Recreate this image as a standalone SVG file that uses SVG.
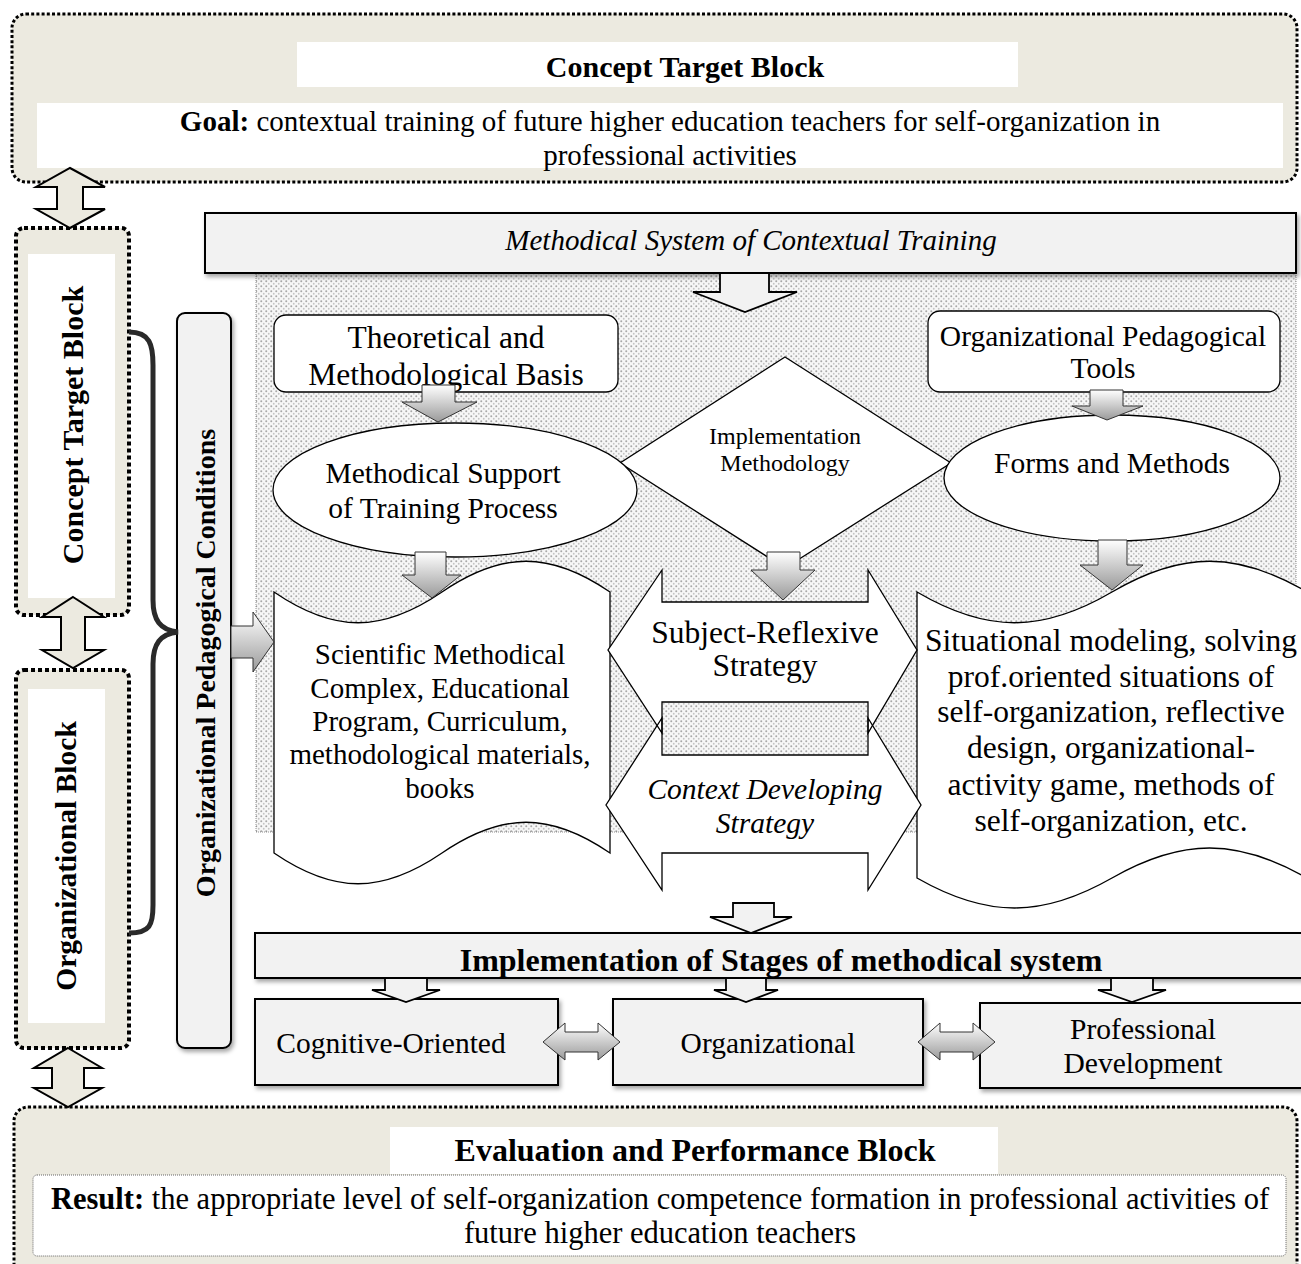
<svg xmlns="http://www.w3.org/2000/svg" width="1301" height="1264" viewBox="0 0 1301 1264">
<style>
text{font-family:"Liberation Serif","Times New Roman",serif;fill:#000}
.b{font-weight:bold}
.i{font-style:italic}
.blk{fill:#ECEAE0;stroke:#000;stroke-width:3;stroke-dasharray:3 2.2}
.lblk{fill:#ECEAE0;stroke:#000;stroke-width:4;stroke-dasharray:4 3}
.wh{fill:#fff}
.gbox{fill:#F2F2F2;stroke:#000;stroke-width:2}
.shape{fill:#fff;stroke:#000;stroke-width:1.3}
.garr{fill:url(#g);stroke:#333;stroke-width:1}
.warr{fill:#F2F2F2;stroke:#000;stroke-width:1.8}
.barr{fill:#ECEAE0;stroke:#000;stroke-width:2}
</style>
<defs>
<pattern id="dots" width="5" height="5" patternUnits="userSpaceOnUse">
<rect width="5" height="5" fill="#f7f7f7"/>
<circle cx="1.25" cy="1.25" r="1" fill="#a8a8a8"/>
<circle cx="3.75" cy="3.75" r="0.9" fill="#c4c4c4"/>
</pattern>
<linearGradient id="g" x1="0" y1="0" x2="0" y2="1">
<stop offset="0" stop-color="#ffffff"/>
<stop offset="1" stop-color="#9a9a9a"/>
</linearGradient>
<filter id="sh" x="-10%" y="-10%" width="130%" height="130%">
<feDropShadow dx="2" dy="3" stdDeviation="2" flood-color="#000" flood-opacity="0.35"/>
</filter>
</defs>

<g id="concept-target-top">
<rect class="blk" x="12" y="14" width="1285" height="168" rx="14"/>
<rect class="wh" x="297" y="42" width="721" height="45"/>
<text class="b" x="685" y="77" font-size="30" text-anchor="middle">Concept Target Block</text>
<rect class="wh" x="37" y="103" width="1246" height="65"/>
<text x="670" y="131" font-size="29" text-anchor="middle"><tspan class="b">Goal:</tspan> contextual training of future higher education teachers for self-organization in</text>
<text x="670" y="165" font-size="29" text-anchor="middle">professional activities</text>
</g>

<g id="concept-target-left">
<rect class="lblk" x="16" y="228" width="113" height="387" rx="8"/>
<rect class="wh" x="28" y="254" width="87" height="344"/>
<text class="b" font-size="30" text-anchor="middle" dominant-baseline="central" transform="translate(72,425) rotate(-90)">Concept Target Block</text>
</g>

<g id="organizational-block">
<rect class="lblk" x="16" y="670" width="113" height="378" rx="8"/>
<rect class="wh" x="28" y="689" width="77" height="334"/>
<text class="b" font-size="29.5" text-anchor="middle" dominant-baseline="central" transform="translate(66,856) rotate(-90)">Organizational Block</text>
</g>

<g id="org-ped-conditions">
<rect class="gbox" x="177" y="313" width="54" height="735" rx="8" filter="url(#sh)"/>
<text class="b" font-size="28" text-anchor="middle" dominant-baseline="central" transform="translate(205,663) rotate(-90)">Organizational Pedagogical Conditions</text>
</g>

<g id="methodical-system">
<rect x="256" y="273" width="1040" height="559" fill="url(#dots)" stroke="#777" stroke-width="0.8" stroke-dasharray="1 1"/>
<rect class="gbox" x="205" y="213" width="1091" height="60" filter="url(#sh)"/>
<text class="i" x="751" y="250" font-size="29" text-anchor="middle">Methodical System of Contextual Training</text>
</g>

<g id="implementation-methodology">
<polygon class="shape" points="785,357 951,463 785,568 620,463"/>
<text x="785" y="444" font-size="24" text-anchor="middle">Implementation</text>
<text x="785" y="471" font-size="24" text-anchor="middle">Methodology</text>
</g>

<g id="theoretical-basis">
<rect class="shape" x="274" y="315" width="344" height="77" rx="12" stroke-width="1.8"/>
<text x="446" y="348" font-size="31.5" text-anchor="middle">Theoretical and</text>
<text x="446" y="385" font-size="31.5" text-anchor="middle">Methodological Basis</text>
</g>

<g id="methodical-support">
<ellipse class="shape" cx="455" cy="490" rx="182" ry="67" stroke-width="1.8"/>
<text x="443" y="483" font-size="29.5" text-anchor="middle">Methodical Support</text>
<text x="443" y="518" font-size="29.5" text-anchor="middle">of Training Process</text>
</g>

<g id="org-ped-tools">
<rect class="shape" x="928" y="311" width="352" height="81" rx="12" stroke-width="1.8"/>
<text x="1103" y="346" font-size="29.5" text-anchor="middle">Organizational Pedagogical</text>
<text x="1103" y="378" font-size="29.5" text-anchor="middle">Tools</text>
</g>

<g id="forms-methods">
<ellipse class="shape" cx="1112" cy="478" rx="168" ry="63" stroke-width="1.8"/>
<text x="1112" y="473" font-size="29.5" text-anchor="middle">Forms and Methods</text>
</g>

<g id="scientific-complex">
<path class="shape" d="M274,592 C334,633 382,633 442,592 C502,551 550,551 610,592 L610,853 C550,812 502,812 442,853 C382,894 334,894 274,853 Z"/>
<text x="440" y="664" font-size="29" text-anchor="middle">Scientific Methodical</text>
<text x="440" y="698" font-size="29" text-anchor="middle">Complex, Educational</text>
<text x="440" y="731" font-size="29" text-anchor="middle">Program, Curriculum,</text>
<text x="440" y="764" font-size="29" text-anchor="middle">methodological materials,</text>
<text x="440" y="798" font-size="29" text-anchor="middle">books</text>
</g>

<g id="situational">
<path class="shape" d="M917,592 C987,633 1042,633 1112,592 C1182,551 1237,551 1307,592 L1307,878 C1237,838 1182,838 1112,878 C1042,918 987,918 917,878 Z"/>
<text x="1111" y="651" font-size="31.5" text-anchor="middle">Situational modeling, solving</text>
<text x="1111" y="687" font-size="31.5" text-anchor="middle">prof.oriented situations of</text>
<text x="1111" y="722" font-size="31.5" text-anchor="middle">self-organization, reflective</text>
<text x="1111" y="758" font-size="31.5" text-anchor="middle">design, organizational-</text>
<text x="1111" y="795" font-size="31.5" text-anchor="middle">activity game, methods of</text>
<text x="1111" y="831" font-size="31.5" text-anchor="middle">self-organization, etc.</text>
</g>

<g id="strategies">
<polygon fill="#fff" points="662,755 868,755 868,718 921,805 868,890 868,853 662,853 662,890 606,805 662,718"/>
<polygon class="shape" points="662,602 868,602 868,570 917,650 868,733 868,702 662,702 662,733 608,650 662,570"/>
<polygon fill="none" stroke="#000" stroke-width="1.3" points="662,755 868,755 868,718 921,805 868,890 868,853 662,853 662,890 606,805 662,718"/>
<text x="765" y="643" font-size="31.5" text-anchor="middle">Subject-Reflexive</text>
<text x="765" y="676" font-size="31.5" text-anchor="middle">Strategy</text>
<text class="i" x="765" y="799" font-size="29.5" text-anchor="middle">Context Developing</text>
<text class="i" x="765" y="833" font-size="29.5" text-anchor="middle">Strategy</text>
</g>

<g id="implementation-stages">
<rect class="gbox" x="255" y="933" width="1060" height="45" filter="url(#sh)"/>
<text class="b" x="781" y="971" font-size="32" text-anchor="middle">Implementation of Stages of methodical system</text>
</g>

<g id="cognitive-oriented">
<rect class="gbox" x="255" y="999" width="303" height="86" filter="url(#sh)"/>
<text x="391" y="1053" font-size="29.5" text-anchor="middle">Cognitive-Oriented</text>
</g>

<g id="organizational">
<rect class="gbox" x="613" y="999" width="310" height="86" filter="url(#sh)"/>
<text x="768" y="1053" font-size="29.5" text-anchor="middle">Organizational</text>
</g>

<g id="professional-development">
<rect class="gbox" x="980" y="1003" width="330" height="85" filter="url(#sh)"/>
<text x="1143" y="1039" font-size="29.5" text-anchor="middle">Professional</text>
<text x="1143" y="1073" font-size="29.5" text-anchor="middle">Development</text>
</g>

<g id="evaluation-block">
<rect class="blk" x="14" y="1107" width="1283" height="175" rx="14"/>
<rect class="wh" x="390" y="1127" width="608" height="47"/>
<text class="b" x="695" y="1161" font-size="32" text-anchor="middle">Evaluation and Performance Block</text>
<rect x="33" y="1175" width="1253" height="81" rx="4" fill="#fff" stroke="#666" stroke-width="1" stroke-dasharray="1 1"/>
<text x="660" y="1209" font-size="30.5" text-anchor="middle"><tspan class="b">Result:</tspan> the appropriate level of self-organization competence formation in professional activities of</text>
<text x="660" y="1243" font-size="30.5" text-anchor="middle">future higher education teachers</text>
</g>

<g id="connectors">
<path d="M129,332 C150,332 153,345 153,365 L153,600 C153,620 160,630 178,632 C160,634 153,644 153,664 L153,905 C153,925 150,933 129,933" fill="none" stroke="#2a2a2a" stroke-width="5"/>
<polygon class="barr" points="70,168 105,187 83,187 83,209 105,209 70,228 36,209 57,209 57,187 36,187"/>
<polygon class="barr" points="73,597 104,617 85,617 85,650 104,650 73,668 42,650 61,650 61,617 42,617"/>
<polygon class="barr" points="68,1048 102,1068 84,1068 84,1088 102,1088 68,1107 34,1088 52,1088 52,1068 34,1068"/>
<polygon class="warr" points="720,273 769,273 769,292 797,292 745,312 693,292 720,292"/>
<polygon class="garr" points="422,385 455,385 455,402 477,402 438,422 402,402 422,402"/>
<polygon class="garr" points="415,552 446,552 446,575 461,575 432,598 402,575 415,575"/>
<polygon class="garr" points="1090,390 1123,390 1123,406 1143,406 1107,420 1072,406 1090,406"/>
<polygon class="garr" points="1098,540 1127,540 1127,565 1143,565 1112,590 1080,565 1098,565"/>
<polygon class="garr" points="767,552 800,552 800,570 815,570 783,600 751,570 767,570"/>
<polygon class="garr" points="231,626 253,626 253,612 274,642 253,672 253,658 231,658"/>
<polygon class="warr" points="733,903 774,903 774,917 792,917 751,933 710,917 733,917"/>
<polygon class="warr" points="385,978 427,978 427,990 440,990 406,1002 372,990 385,990"/>
<polygon class="warr" points="726,978 766,978 766,990 778,990 746,1002 714,990 726,990"/>
<polygon class="warr" points="1111,978 1153,978 1153,990 1166,990 1132,1002 1098,990 1111,990"/>
<polygon class="garr" points="543,1042 565,1023 565,1032 598,1032 598,1023 620,1042 598,1060 598,1052 565,1052 565,1060"/>
<polygon class="garr" points="918,1042 940,1023 940,1032 973,1032 973,1023 995,1042 973,1060 973,1052 940,1052 940,1060"/>
</g>
</svg>
